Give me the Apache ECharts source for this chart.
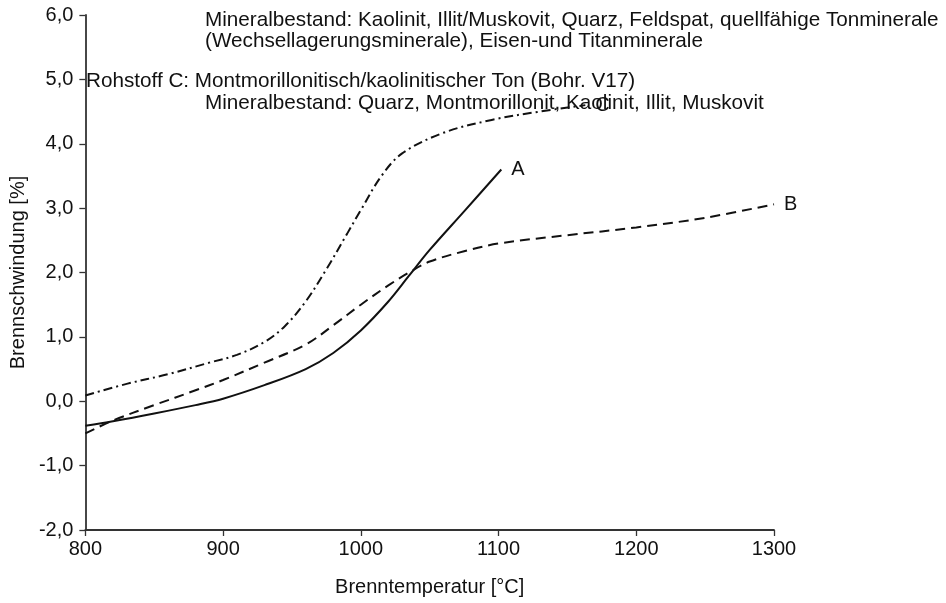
<!DOCTYPE html>
<html>
<head>
<meta charset="utf-8">
<script src="https://cdn.jsdelivr.net/npm/echarts@6/dist/echarts.min.js"></script>
<style>
  html, body { margin: 0; padding: 0; background: #fff; }
  #chart { width: 946px; height: 603px; }
</style>
</head>
<body>
<div id="chart"></div>
<script>
// Brennschwindung der Rohstoffe A, B, C
var tempA = [800, 820, 850, 880, 900, 930, 960, 980, 1000, 1020, 1035, 1050, 1075, 1102];
var shrinkA = [-0.38, -0.31, -0.19, -0.06, 0.04, 0.25, 0.5, 0.75, 1.1, 1.55, 1.95, 2.35, 2.95, 3.6];

var tempB = [800, 820, 850, 880, 900, 930, 960, 980, 1000, 1020, 1035, 1050, 1075, 1100, 1150, 1200, 1250, 1300];
var shrinkB = [-0.5, -0.3, -0.06, 0.17, 0.33, 0.6, 0.88, 1.18, 1.5, 1.8, 2.0, 2.17, 2.33, 2.45, 2.58, 2.7, 2.85, 3.06];

var tempC = [800, 830, 860, 890, 910, 930, 945, 960, 975, 990, 1000, 1015, 1030, 1060, 1095, 1130, 1163];
var shrinkC = [0.09, 0.27, 0.42, 0.6, 0.72, 0.92, 1.17, 1.55, 2.05, 2.6, 2.97, 3.5, 3.85, 4.17, 4.37, 4.5, 4.6];

var noteLines = [
    'Mineralbestand: Kaolinit, Illit/Muskovit, Quarz, Feldspat, quellfähige Tonminerale',
    '(Wechsellagerungsminerale), Eisen-und Titanminerale',
    'Rohstoff C: Montmorillonitisch/kaolinitischer Ton (Bohr. V17)',
    'Mineralbestand: Quarz, Montmorillonit, Kaolinit, Illit, Muskovit'
];

function pairs(xs, ys) {
    return xs.map(function (x, i) { return [x, ys[i]]; });
}

var FONT = '"Liberation Sans", Arial, Helvetica, sans-serif';
var INK = '#111';
var NOTE_FONT = '20.7px ' + FONT;

var chart = echarts.init(document.getElementById('chart'));

function curve(name, xs, ys, dash) {
    return {
        name: name,
        type: 'line',
        data: pairs(xs, ys),
        smooth: 0.35,
        showSymbol: false,
        symbol: 'none',
        lineStyle: { color: INK, width: 2, type: dash },
        endLabel: {
            show: true,
            formatter: name,
            color: INK,
            fontSize: 20,
            fontFamily: FONT,
            distance: 10
        },
        z: 3
    };
}

var option = {
    animation: false,
    backgroundColor: '#fff',
    textStyle: { fontFamily: FONT },
    grid: { left: 83, right: 172, top: 15, bottom: 73 },
    xAxis: {
        type: 'value',
        min: 800,
        max: 1300,
        interval: 100,
        name: 'Brenntemperatur [°C]',
        nameLocation: 'middle',
        nameGap: 47,
        nameTextStyle: { color: INK, fontSize: 20, fontFamily: FONT },
        axisLine: { show: true, onZero: false, lineStyle: { color: '#333', width: 1.8 } },
        axisTick: { show: true, length: 6, lineStyle: { color: '#333', width: 1.3 } },
        axisLabel: {
            color: INK, fontSize: 20, fontFamily: FONT, margin: 9,
            formatter: function (v) { return String(v); }
        },
        splitLine: { show: false }
    },
    yAxis: {
        type: 'value',
        min: -2,
        max: 6,
        interval: 1,
        name: 'Brennschwindung [%]',
        nameLocation: 'middle',
        nameGap: 48,
        nameTextStyle: { color: INK, fontSize: 20, fontFamily: FONT },
        axisLine: { show: true, onZero: false, lineStyle: { color: '#333', width: 1.8 } },
        axisTick: { show: true, length: 6, lineStyle: { color: '#333', width: 1.3 } },
        axisLabel: {
            color: INK, fontSize: 20, fontFamily: FONT, margin: 12,
            formatter: function (v) { return v.toFixed(1).replace('.', ','); }
        },
        splitLine: { show: false }
    },
    graphic: [
        { type: 'text', left: 205, top: 10, style: { text: noteLines[0], font: NOTE_FONT, fill: INK } },
        { type: 'text', left: 205, top: 31, style: { text: noteLines[1], font: NOTE_FONT, fill: INK } },
        { type: 'text', left: 86, top: 71, style: { text: noteLines[2], font: NOTE_FONT, fill: INK } },
        { type: 'text', left: 205, top: 93, style: { text: noteLines[3], font: NOTE_FONT, fill: INK } }
    ],
    series: [
        curve('A', tempA, shrinkA, 'solid'),
        curve('B', tempB, shrinkB, [10, 6]),
        curve('C', tempC, shrinkC, [9, 4, 2, 4])
    ]
};

chart.setOption(option);
</script>
</body>
</html>
